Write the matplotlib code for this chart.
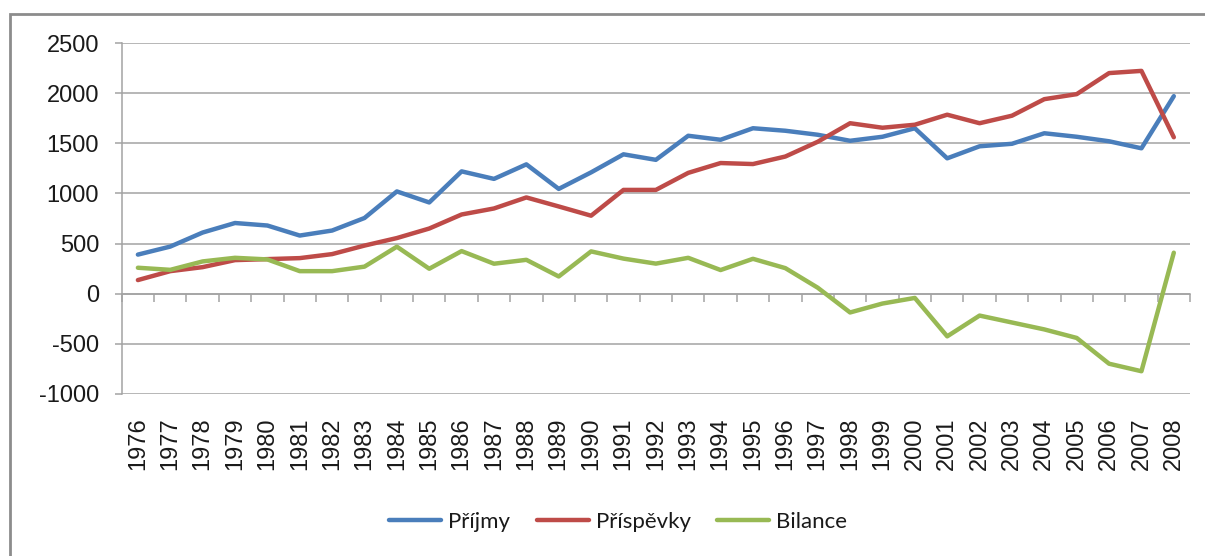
import matplotlib
matplotlib.use("Agg")
import matplotlib.pyplot as plt
from matplotlib.patches import Rectangle

plt.rcParams["axes.unicode_minus"] = False

# Data
roky = list(range(1976, 2009))
prijmy = [390, 470, 610, 705, 680, 580, 630, 755, 1020, 910, 1220, 1145,
          1290, 1045, 1210, 1390, 1335, 1575, 1535, 1650, 1625, 1585, 1525,
          1565, 1650, 1350, 1470, 1495, 1600, 1565, 1520, 1450, 1970]
prispevky = [136, 225, 265, 335, 345, 355, 395, 480, 555, 650, 790, 850,
             960, 870, 778, 1035, 1035, 1205, 1303, 1293, 1368, 1515, 1700,
             1655, 1685, 1785, 1700, 1775, 1940, 1990, 2200, 2222, 1560]
bilance = [259, 238, 322, 358, 342, 225, 225, 270, 469, 249, 425, 299,
           338, 172, 422, 350, 300, 358, 236, 348, 255, 60, -187,
           -98, -42, -425, -218, -287, -356, -441, -698, -773, 409]

serie = [("Příjmy", prijmy, "#4A7EBB"),
         ("Příspěvky", prispevky, "#BE4B48"),
         ("Bilance", bilance, "#98B954")]

tick_font = "Liberation Sans"
legend_font = ["Lato", "DejaVu Sans"]
grid_col = "#a3a3a3"
ymin, ymax = -1000, 2500

fig = plt.figure(figsize=(12.05, 5.56), dpi=100)
ax = fig.add_axes([121.7 / 1205, 1 - 394 / 556, (1190 - 121.7) / 1205, (394 - 43) / 556])

x = list(range(len(roky)))
for nazev, vals, col in serie:
    ax.plot(x, vals, color=col, lw=3.2, label=nazev, solid_joinstyle="round",
            solid_capstyle="round")

ax.set_xlim(-0.5, len(roky) - 0.5)
ax.set_ylim(ymin, ymax)
ax.set_yticks(range(ymin, ymax + 1, 500))
ax.yaxis.grid(True, color=grid_col, lw=1.1)
ax.set_axisbelow(True)

for s in ["top", "right", "bottom"]:
    ax.spines[s].set_visible(False)
ax.spines["left"].set_color(grid_col)
ax.spines["left"].set_linewidth(1.1)

ax.tick_params(axis="y", direction="out", length=5.3, width=1.1, color=grid_col,
               pad=11, labelsize=17)
for lab in ax.get_yticklabels():
    lab.set_fontfamily(tick_font)
    lab.set_color("#1a1a1a")

# year labels sit at the bottom of the plot
ax.set_xticks(x)
ax.set_xticklabels([str(r) for r in roky], rotation=90, fontsize=17,
                   fontfamily=tick_font, color="#1a1a1a", va="top")
ax.tick_params(axis="x", length=0, pad=17)

# category axis crossing at zero with tick marks between categories
loc0 = (0 - ymin) / (ymax - ymin)
sec = ax.secondary_xaxis(loc0)
sec.set_xticks([i - 0.5 for i in range(len(roky) + 1)])
sec.set_xticklabels([])
sec.tick_params(direction="out", length=5.5, width=1.1, color=grid_col)
sec.spines["bottom"].set_color(grid_col)
sec.spines["bottom"].set_linewidth(1.1)

# outer chart frame
fig.patches.append(Rectangle((10 / 1205, -0.2), 1.2, 1 - 14 / 556 + 0.2,
                             transform=fig.transFigure, fill=False,
                             edgecolor="#8c8c8c", lw=2))

leg = fig.legend(loc="center", bbox_to_anchor=(0.513, 1 - 522 / 556), ncol=3,
                 frameon=False, handlelength=2.35, handletextpad=0.3,
                 columnspacing=1.2, prop={"family": legend_font, "size": 16})
for t in leg.get_texts():
    t.set_color("#1a1a1a")

fig.savefig("out.png", dpi=100)
